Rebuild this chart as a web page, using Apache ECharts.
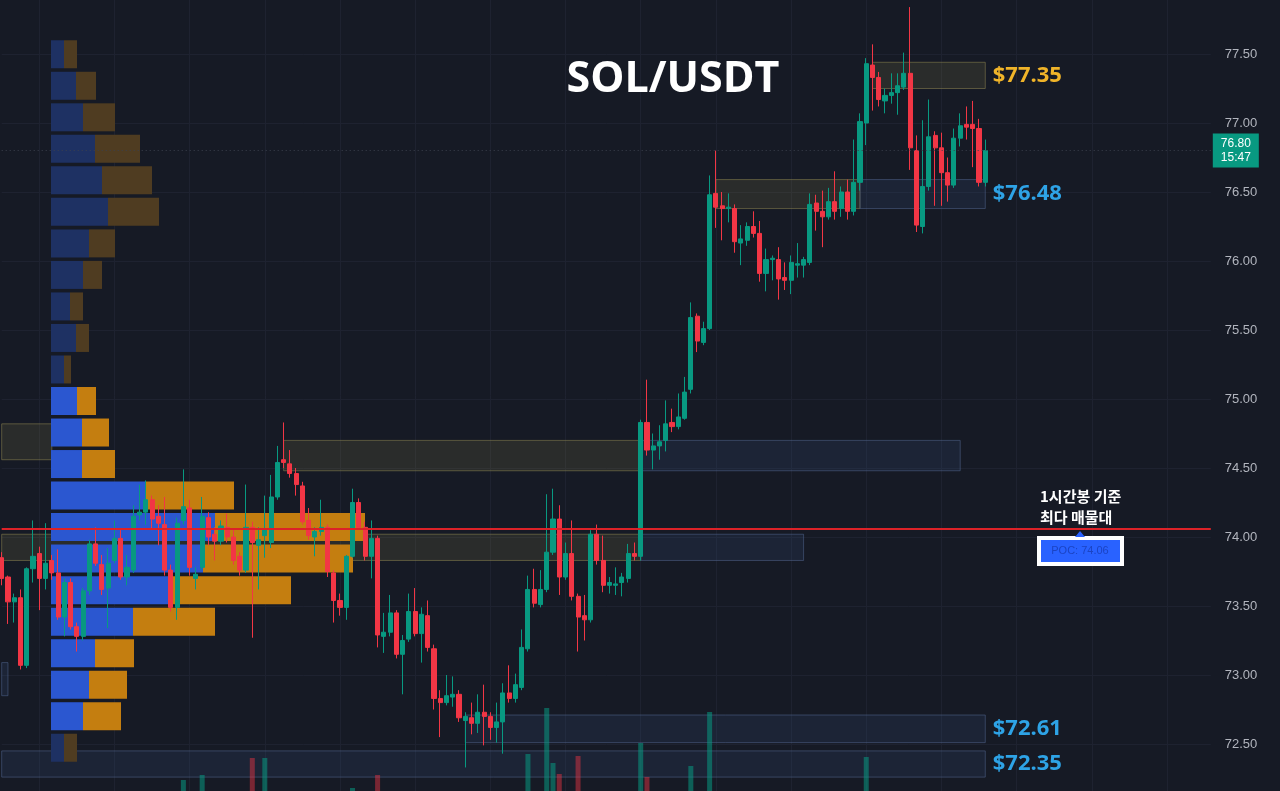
<!DOCTYPE html>
<html><head><meta charset="utf-8">
<script src="https://cdn.jsdelivr.net/npm/echarts@6/dist/echarts.min.js"></script>
<style>html,body{margin:0;padding:0;background:#161a25;overflow:hidden}#c{width:1280px;height:791px}</style>
</head><body><div id="c"></div>
<script>
// ---- Candles (SOL/USDT) ----
const openP = [
73.85,73.71,73.53,73.56,73.07,73.77,73.88,73.70,73.83,73.74,
73.42,73.67,73.35,73.28,73.61,73.95,73.80,73.63,73.83,73.99,
73.71,73.76,74.16,74.18,74.27,74.15,74.09,73.76,73.49,74.12,
74.21,73.70,73.78,74.14,74.02,73.97,74.07,74.00,73.86,73.76,
74.07,73.94,74.01,73.96,74.29,74.56,74.53,74.46,74.37,74.12,
74.00,74.04,74.07,73.74,73.54,73.49,73.86,74.25,74.07,73.86,
73.99,73.28,73.31,73.45,73.15,73.26,73.46,73.30,73.43,73.19,
72.83,72.80,72.84,72.86,72.67,72.69,72.65,72.73,72.70,72.62,
72.66,72.87,72.83,72.91,73.19,73.62,73.51,73.62,73.89,74.13,
73.71,73.88,73.57,73.43,73.40,74.02,73.83,73.65,73.65,73.67,
73.70,73.88,73.86,74.83,74.63,74.66,74.70,74.83,74.80,74.86,
75.07,75.60,75.41,75.51,76.49,76.40,76.38,76.38,76.13,76.15,
76.25,76.20,75.91,76.01,76.01,75.88,75.86,75.97,75.97,75.99,
76.42,76.36,76.32,76.43,76.38,76.50,76.36,76.57,77.00,77.42,
77.33,77.16,77.20,77.22,77.26,77.36,76.80,76.25,76.54,76.91,
76.82,76.64,76.55,76.89,76.99,76.99,76.96,76.57];
const closeP = [
73.70,73.53,73.56,73.07,73.77,73.86,73.70,73.81,73.74,73.42,
73.67,73.35,73.28,73.61,73.95,73.81,73.62,73.81,73.99,73.71,
73.78,74.15,74.18,74.27,74.13,74.10,73.76,73.49,74.10,74.22,
73.78,73.73,74.15,74.00,73.97,74.08,74.00,73.83,73.76,74.07,
73.96,73.98,74.05,74.29,74.54,74.54,74.46,74.38,74.11,74.01,
74.04,74.07,73.75,73.54,73.49,73.86,74.25,74.07,73.86,73.99,
73.29,73.31,73.45,73.15,73.25,73.46,73.30,73.44,73.20,72.83,
72.80,72.85,72.86,72.69,72.70,72.65,72.73,72.70,72.62,72.66,
72.87,72.83,72.93,73.20,73.62,73.52,73.62,73.89,74.13,73.71,
73.88,73.57,73.42,73.40,74.02,73.83,73.65,73.67,73.66,73.71,
73.88,73.86,74.83,74.63,74.66,74.69,74.82,74.80,74.87,75.05,
75.59,75.42,75.51,76.48,76.39,76.38,76.39,76.14,76.16,76.25,
76.20,75.91,76.01,76.02,75.87,75.86,75.99,75.98,76.01,76.41,
76.36,76.32,76.43,76.36,76.50,76.36,76.57,77.01,77.43,77.33,
77.17,77.20,77.22,77.27,77.36,76.82,76.26,76.54,76.90,76.82,
76.64,76.55,76.89,76.98,76.97,76.96,76.57,76.80];
const lowP = [
73.65,73.37,73.38,73.04,73.05,73.67,73.47,73.62,73.69,73.40,
73.28,73.33,73.17,73.25,73.58,73.79,73.58,73.34,73.81,73.69,
73.65,73.74,74.12,74.09,74.05,73.94,73.72,73.46,73.40,74.09,
73.72,73.62,73.76,73.94,73.83,73.94,73.96,73.80,73.72,73.74,
73.27,73.62,73.85,73.92,74.27,74.50,74.43,74.30,74.09,73.98,
73.86,74.01,73.71,73.38,73.43,73.40,73.85,74.05,73.83,73.70,
73.20,73.16,73.28,73.12,72.86,73.24,73.28,73.09,73.17,72.75,
72.55,72.78,72.77,72.66,72.33,72.57,72.58,72.49,72.53,72.51,
72.43,72.80,72.80,72.89,73.17,73.49,73.49,73.60,73.87,73.58,
73.69,73.54,73.17,73.25,73.38,73.80,73.60,73.59,73.58,73.57,
73.67,73.83,73.83,74.59,74.49,74.56,74.62,74.76,74.78,74.85,
75.04,75.34,75.39,75.50,76.24,76.15,76.28,76.06,75.97,76.11,
76.17,75.85,75.78,75.86,75.72,75.79,75.76,75.88,75.88,75.97,
76.22,76.10,76.30,76.30,76.32,76.30,76.33,76.51,76.84,77.09,
77.12,77.07,77.14,77.06,77.24,76.66,76.21,76.20,76.51,76.40,
76.40,76.43,76.53,76.83,76.88,76.68,76.54,76.54];
const highP = [
73.89,73.72,73.59,73.62,73.78,74.12,73.93,74.10,73.87,73.91,
73.70,73.70,73.38,73.63,73.98,74.07,73.87,73.92,74.12,74.05,
73.87,74.23,74.38,74.41,74.30,74.23,74.29,73.80,74.14,74.49,
74.27,73.78,74.29,74.18,74.07,74.12,74.17,74.05,73.89,74.38,
74.11,74.07,74.30,74.45,74.66,74.83,74.63,74.50,74.40,74.21,
74.07,74.27,74.09,73.76,73.59,73.87,74.35,74.28,74.11,74.12,
74.01,73.45,73.58,73.47,73.29,73.59,73.63,73.49,73.54,73.22,
72.89,73.00,72.99,72.89,72.73,72.80,72.86,72.93,72.73,72.80,
72.94,73.07,73.01,73.33,73.72,73.77,73.76,74.31,74.35,74.23,
73.96,74.12,73.59,73.58,74.05,74.09,74.01,73.71,73.78,73.74,
73.95,73.96,74.85,75.14,74.75,74.81,74.99,74.93,75.04,75.16,
75.70,75.62,75.56,76.62,76.80,76.50,76.49,76.41,76.26,76.28,
76.36,76.29,76.09,76.04,76.10,75.99,76.04,76.13,76.03,76.49,
76.48,76.51,76.53,76.65,76.54,76.59,76.88,77.07,77.47,77.57,
77.37,77.25,77.36,77.36,77.51,77.84,76.91,77.02,77.17,76.94,
76.93,76.75,76.96,77.07,77.12,77.16,77.03,76.88];
const emptySlots = 36;           // blank bars to the right of the last candle

// ---- Volume (only the tallest bars reach into the picture) ----
const volumeIndex = [29,32,40,42,56,60,84,87,88,89,92,102,103,110,113,138];
const volumeValue = [51,56,73,73,43,56,77,123,68,57,75,88,54,65,119,74];

// ---- Volume profile (top row first) ----
const profileBuy  = [13,25,32,44,51,57,38,32,19,25,13,26,31,31,95,164,152,119,82,44,38,32,13];
const profileSell = [13,20,32,45,50,51,26,19,13,13,7,19,27,33,88,150,150,121,82,39,38,38,13];
const profileValueArea = [0,0,0,0,0,0,0,0,0,0,0,1,1,1,1,1,1,1,1,1,1,1,0];

// ---- Zones ----
const zoneFrom  = [139,114,137,45,102,0,0,102,74,0,0];
const zoneTo    = [157,137,157,102,153,8,102,128,157,157,1];
const zoneHigh  = [77.44,76.59,76.59,74.70,74.70,74.82,74.02,74.02,72.71,72.45,73.09];
const zoneLow   = [77.25,76.38,76.38,74.48,74.48,74.56,73.83,73.83,72.51,72.26,72.85];
const zoneKind  = ['supply','supply','demand','supply','demand','supply','supply','demand','demand','demand','demand'];
const zoneLabel = ['$77.35','','$76.48','','','','','','$72.61','$72.35',''];

const pocPrice = 74.06;
const lastPrice = 76.80;
const lastTime = '15:47';
const priceMin = 72.0, priceMax = 78.0, priceStep = 0.5;

// ---------------------------------------------------------------
const UP = '#089981', DOWN = '#f23645';
const nTotal = openP.length + emptySlots;
const categories = Array.from({length: nTotal}, (_, i) => 'b' + i);
const candleData = openP.map((o, i) => [o, closeP[i], lowP[i], highP[i]]);
const volumeData = openP.map(() => null);
volumeIndex.forEach((idx, k) => {
  volumeData[idx] = {value: volumeValue[k], itemStyle: {color: closeP[idx] >= openP[idx] ? 'rgba(8,153,129,0.55)' : 'rgba(242,54,69,0.45)'}};
});
const rows = profileBuy.map((_, i) => 'r' + i);

const gridLeft = 1.7, gridWidth = 1209.1;
const zoneStyles = {
  supply: {color: 'rgba(125,118,70,0.20)', borderColor: 'rgba(140,132,80,0.55)', borderWidth: 1},
  demand: {color: 'rgba(60,90,140,0.17)', borderColor: 'rgba(80,100,140,0.55)', borderWidth: 1}
};
const zoneAreas = zoneFrom.map((f, i) => {
  const lbl = zoneLabel[i];
  return [{
    coord: [f, zoneHigh[i]],
    itemStyle: zoneStyles[zoneKind[i]],
    label: lbl ? {show: true, position: 'right', distance: 7, formatter: lbl,
      color: zoneKind[i] === 'supply' ? '#f0b429' : '#2ea3e6',
      fontSize: 22, fontWeight: 'bold', fontFamily: 'Open Sans'} : {show: false}
  }, {coord: [zoneTo[i], zoneLow[i]]}];
});

const chart = echarts.init(document.getElementById('c'), null, {renderer: 'canvas'});
chart.setOption({
  backgroundColor: '#161a25',
  animation: false,
  grid: [
    {left: gridLeft, width: gridWidth, top: -15, height: 828, containLabel: false, outerBoundsMode: 'none'},
    {left: gridLeft, width: gridWidth, top: 700, height: 131, containLabel: false, outerBoundsMode: 'none'},
    {left: 51, width: 400, top: 38.5, height: 725, containLabel: false, outerBoundsMode: 'none'}
  ],
  xAxis: [
    {type: 'category', gridIndex: 0, data: categories, boundaryGap: false,
     axisLine: {show: false}, axisTick: {show: false}, axisLabel: {show: false},
     splitLine: {show: true, interval: (idx) => idx % 12 === 6, lineStyle: {color: '#1e2230', width: 1}}},
    {type: 'category', gridIndex: 1, data: categories, boundaryGap: false, show: false},
    {type: 'value', gridIndex: 2, min: 0, max: 400, show: false}
  ],
  yAxis: [
    {type: 'value', gridIndex: 0, position: 'right', min: priceMin, max: priceMax, interval: priceStep,
     axisLine: {show: false}, axisTick: {show: false},
     axisLabel: {margin: 14, color: '#b2b5be', fontSize: 13, fontFamily: 'Liberation Sans', formatter: v => v.toFixed(2)},
     splitLine: {show: true, lineStyle: {color: '#1e2230', width: 1}}},
    {type: 'value', gridIndex: 1, min: 0, max: 131, show: false},
    {type: 'category', gridIndex: 2, data: rows, inverse: true, show: false}
  ],
  series: [
    {type: 'line', xAxisIndex: 0, yAxisIndex: 0, data: [], z: 1, silent: true,
     markArea: {silent: true, data: zoneAreas},
     markLine: {silent: true, symbol: ['none', 'none'], data: [{yAxis: pocPrice}],
       lineStyle: {color: '#dc2228', width: 2, type: 'solid'}, label: {show: false}}},
    {type: 'bar', xAxisIndex: 2, yAxisIndex: 2, stack: 'vp', barWidth: 28, z: 2, silent: true,
     data: profileBuy.map((v, i) => ({value: v, itemStyle: {color: profileValueArea[i] ? '#2b57d0' : '#1e3163'}}))},
    {type: 'bar', xAxisIndex: 2, yAxisIndex: 2, stack: 'vp', barWidth: 28, z: 2, silent: true,
     data: profileSell.map((v, i) => ({value: v, itemStyle: {color: profileValueArea[i] ? '#c47e10' : '#4f3c21'}}))},
    {type: 'bar', xAxisIndex: 1, yAxisIndex: 1, data: volumeData, barWidth: 5, z: 2, silent: true},
    {type: 'candlestick', xAxisIndex: 0, yAxisIndex: 0, data: candleData, barWidth: 4.6, z: 3,
     itemStyle: {color: UP, color0: DOWN, borderColor: UP, borderColor0: DOWN, borderWidth: 1},
     markLine: {silent: true, symbol: ['none', 'none'], data: [{yAxis: lastPrice}],
       lineStyle: {color: '#3c414e', width: 1, type: [1, 3]},
       label: {show: true, position: 'end', distance: 2, formatter: lastPrice.toFixed(2) + '\n' + lastTime,
         backgroundColor: UP, color: '#ffffff', fontSize: 12, lineHeight: 14, padding: [3, 8],
         fontFamily: 'Liberation Sans'}}}
  ],
  graphic: [
    {type: 'text', z: 10, style: {text: 'SOL/USDT', x: 673, y: 80, textAlign: 'center', textVerticalAlign: 'middle',
      fill: '#ffffff', font: 'bold 43px "Open Sans"'}},
    {type: 'text', z: 10, style: {text: '1시간봉 기준', x: 1040, y: 496, textVerticalAlign: 'middle',
      fill: '#ffffff', font: 'bold 15px "Noto Sans CJK KR"'}},
    {type: 'text', z: 10, style: {text: '최다 매물대', x: 1040, y: 517, textVerticalAlign: 'middle',
      fill: '#ffffff', font: 'bold 15px "Noto Sans CJK KR"'}},
    {type: 'rect', z: 10, shape: {x: 1037, y: 536, width: 87, height: 30}, style: {fill: '#ffffff'}},
    {type: 'rect', z: 11, shape: {x: 1041, y: 540, width: 79, height: 22}, style: {fill: '#2962ff'}},
    {type: 'polygon', z: 11, shape: {points: [[1075, 537], [1085, 537], [1080, 531]]}, style: {fill: '#2962ff'}},
    {type: 'text', z: 12, style: {text: 'POC: ' + pocPrice.toFixed(2), x: 1080, y: 551, textAlign: 'center', textVerticalAlign: 'middle',
      fill: '#1b44c4', font: '11px "Liberation Sans"'}}
  ]
});
</script></body></html>
